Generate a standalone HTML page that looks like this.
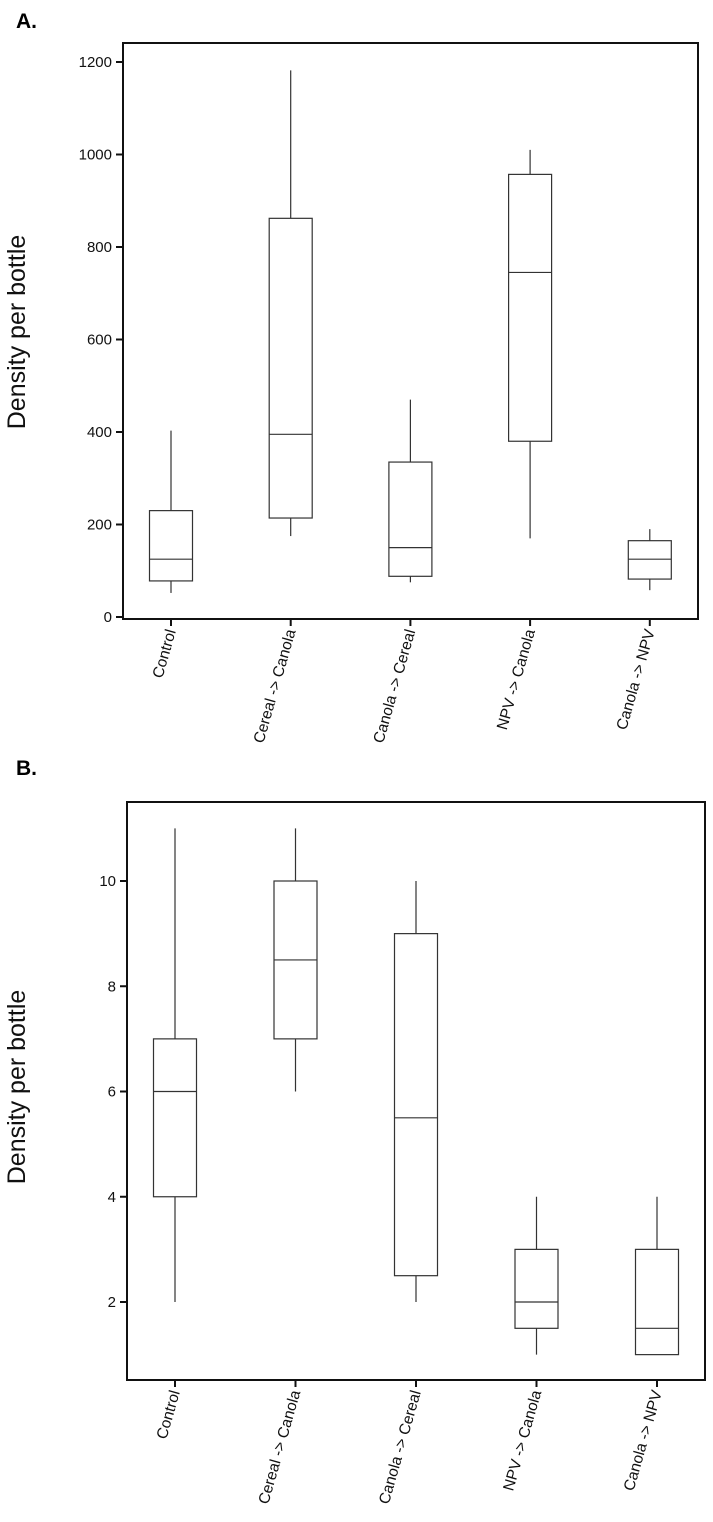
<!DOCTYPE html>
<html><head><meta charset="utf-8"><style>
html,body{margin:0;padding:0;background:#fff;}
svg{display:block;font-family:"Liberation Sans",Arial,sans-serif;}
</style></head><body>
<svg id="chart" width="713" height="1522" viewBox="0 0 713 1522">
<text x="16" y="28" font-size="21" font-weight="bold">A.</text>
<text x="16" y="775" font-size="21" font-weight="bold">B.</text>
</svg>
<script>
const categories = ["Control","Cereal -> Canola","Canola -> Cereal","NPV -> Canola","Canola -> NPV"];
const aLow    = [52, 175, 75, 170, 58];
const aQ1     = [78, 214, 88, 380, 82];
const aMedian = [125, 395, 150, 745, 125];
const aQ3     = [230, 862, 335, 957, 165];
const aHigh   = [403, 1182, 470, 1010, 190];
const aTicks  = [0, 200, 400, 600, 800, 1000, 1200];
const bLow    = [2, 6, 2, 1, 1];
const bQ1     = [4, 7, 2.5, 1.5, 1];
const bMedian = [6, 8.5, 5.5, 2, 1.5];
const bQ3     = [7, 10, 9, 3, 3];
const bHigh   = [11, 11, 10, 4, 4];
const bTicks  = [2, 4, 6, 8, 10];

const NS = "http://www.w3.org/2000/svg";
const svg = document.getElementById("chart");
function mk(tag, attrs, parent){
  const e = document.createElementNS(NS, tag);
  for (const k in attrs) e.setAttribute(k, attrs[k]);
  (parent||svg).appendChild(e);
  return e;
}
function panel(id, f, low, q1, med, q3, high, ticks){
  const g = mk("g", {});
  
  
  const y = v => f.y0 + (v - f.v0) * (f.y1 - f.y0) / (f.v1 - f.v0);
  const x = i => f.cx0 + i * f.step;
  const frame = mk("rect", {x:f.left, y:f.top, width:f.right-f.left, height:f.bottom-f.top, fill:"none", stroke:"#111", "stroke-width":2}, g);
  
  
  ticks.forEach(t => {
    const ty = y(t);
    const tl = mk("line", {x1:f.left-7, x2:f.left, y1:ty, y2:ty, stroke:"#111", "stroke-width":2}, g);
    
    
    const tt = mk("text", {x:f.left-11, y:ty+5, "font-size":f.tickFont, "text-anchor":"end", fill:"#111"}, g);
    tt.textContent = t;
    
    
  });
  const title = mk("text", {x:0, y:0, "font-size":25, "text-anchor":"middle", fill:"#111", transform:`translate(${f.titleX},${f.titleY}) rotate(-90)`}, g);
  title.textContent = "Density per bottle";
  
  
  categories.forEach((c, i) => {
    const cx = x(i);
    const tk = mk("line", {x1:cx, x2:cx, y1:f.bottom, y2:f.bottom+7, stroke:"#111", "stroke-width":2}, g);
    
    
    const lb = mk("text", {x:0, y:0, "font-size":15.5, "text-anchor":"end", fill:"#111", transform:`translate(${cx+5},${f.bottom+12}) rotate(-74)`}, g);
    lb.textContent = c;
    
    
    const bg = mk("g", {stroke:"#333", "stroke-width":1.2, fill:"none"}, g);
    
    
    const hw = 21.5;
    const w1 = mk("line", {x1:cx, x2:cx, y1:y(high[i]), y2:y(q3[i])}, bg);
    
    
    const w2 = mk("line", {x1:cx, x2:cx, y1:y(q1[i]), y2:y(low[i])}, bg);
    
    
    const r = mk("rect", {x:cx-hw, y:y(q3[i]), width:hw*2, height:y(q1[i])-y(q3[i]), fill:"#fff"}, bg);
    
    
    const m = mk("line", {x1:cx-hw, x2:cx+hw, y1:y(med[i]), y2:y(med[i])}, bg);
    
    
  });
}
panel("panel-a", {left:123, right:698, top:43, bottom:619, y0:617, v0:0, y1:62, v1:1200, cx0:171, step:119.7, titleX:25, titleY:332, tickFont:15},
  aLow, aQ1, aMedian, aQ3, aHigh, aTicks);
panel("panel-b", {left:127, right:705, top:802, bottom:1380, y0:1302, v0:2, y1:881, v1:10, cx0:175, step:120.5, titleX:25, titleY:1087, tickFont:15},
  bLow, bQ1, bMedian, bQ3, bHigh, bTicks);
</script>
</body></html>
